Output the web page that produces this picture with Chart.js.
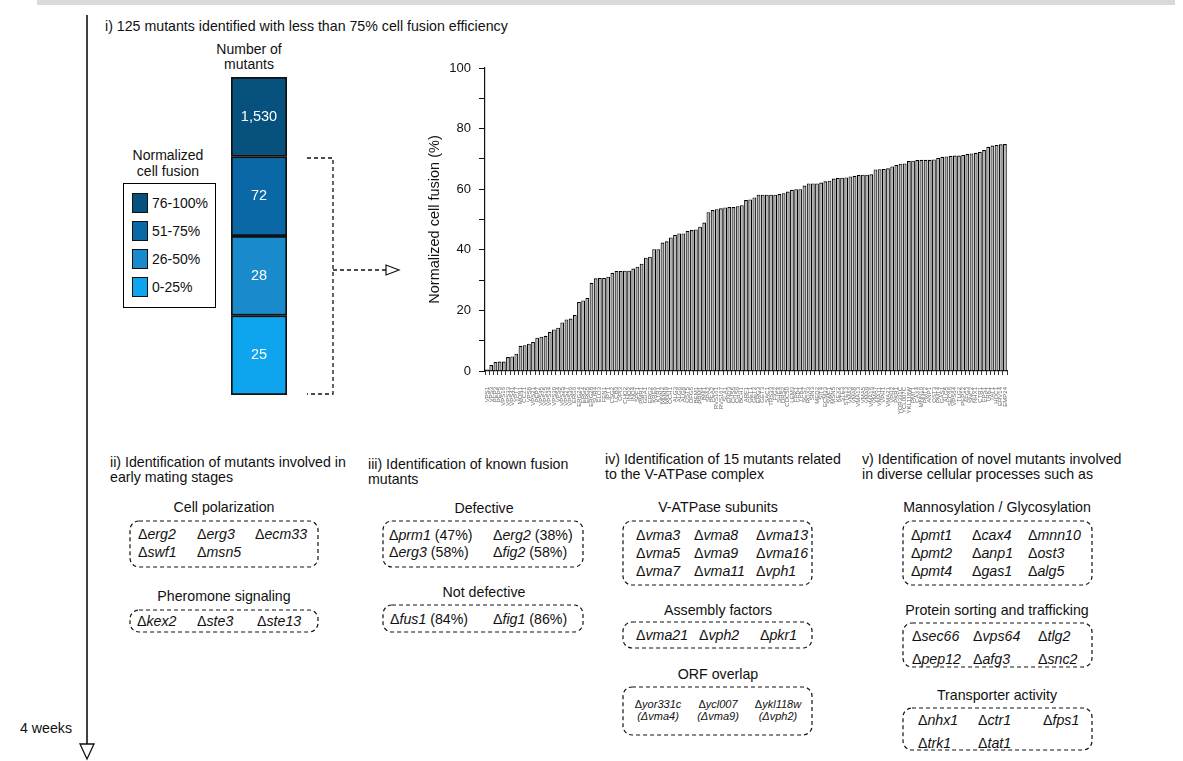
<!DOCTYPE html>
<html>
<head>
<meta charset="utf-8">
<script src="https://cdn.jsdelivr.net/npm/chart.js@4.4.1/dist/chart.umd.min.js"></script>
<style>
  html, body { margin: 0; padding: 0; background: #fff; }
  body {
    width: 1183px; height: 761px; position: relative; overflow: hidden;
    font-family: "Liberation Sans", Arial, Helvetica, sans-serif; color: #111;
  }
  .t { position: absolute; white-space: nowrap; font-size: 14.2px; line-height: 16px; }
  .h { line-height: 15px; }
  .c { transform: translateX(-50%); text-align: center; }
  .s { font-size: 11px; line-height: 12px; }
  .band { position: absolute; left: 37px; top: 0; width: 1138px; height: 5px; background: #d7dbdb; }
  #legend { position: absolute; left: 123px; top: 183px; width: 93px; height: 125px;
            border: 1.5px solid #000; box-sizing: border-box; }
  .sw { position: absolute; left: 8px; width: 16px; height: 20px; border: 1.5px solid #111; box-sizing: border-box; }
  .lt { position: absolute; left: 28px; font-size: 14px; line-height: 20px; white-space: nowrap; }
  canvas { position: absolute; }
  svg { position: absolute; left: 0; top: 0; }
</style>
</head>
<body>
<div class="band"></div>

<div class="t" style="left:105px;top:18px;">i) 125 mutants identified with less than 75% cell fusion efficiency</div>
<div class="t c" style="left:249px;top:42px;font-size:14px;line-height:15px;">Number of<br>mutants</div>
<div class="t c" style="left:168px;top:147px;font-size:14px;line-height:16px;">Normalized<br>cell fusion</div>

<div id="legend"></div>

<canvas id="stack" width="58" height="320" style="left:230px;top:76px;"></canvas>
<canvas id="bars" width="600" height="364" style="left:410px;top:55px;"></canvas>

<!-- ii -->
<div class="t h" style="left:110px;top:455px;">ii) Identification of mutants involved in<br>early mating stages</div>
<div class="t c" style="left:224px;top:499px;">Cell polarization</div>
<div class="t" style="left:138px;top:526px;">&Delta;<i>erg2</i></div>
<div class="t" style="left:197px;top:526px;">&Delta;<i>erg3</i></div>
<div class="t" style="left:255px;top:526px;">&Delta;<i>ecm33</i></div>
<div class="t" style="left:138px;top:544px;">&Delta;<i>swf1</i></div>
<div class="t" style="left:197px;top:544px;">&Delta;<i>msn5</i></div>
<div class="t c" style="left:224px;top:588px;">Pheromone signaling</div>
<div class="t" style="left:137px;top:613px;">&Delta;<i>kex2</i></div>
<div class="t" style="left:197px;top:613px;">&Delta;<i>ste3</i></div>
<div class="t" style="left:257px;top:613px;">&Delta;<i>ste13</i></div>

<!-- iii -->
<div class="t h" style="left:368px;top:457px;">iii) Identification of known fusion<br>mutants</div>
<div class="t c" style="left:484px;top:500px;">Defective</div>
<div class="t" style="left:389px;top:527px;">&Delta;<i>prm1</i> (47%)</div>
<div class="t" style="left:493px;top:527px;">&Delta;<i>erg2</i> (38%)</div>
<div class="t" style="left:389px;top:544px;">&Delta;<i>erg3</i> (58%)</div>
<div class="t" style="left:493px;top:544px;">&Delta;<i>fig2</i> (58%)</div>
<div class="t c" style="left:484px;top:584px;">Not defective</div>
<div class="t" style="left:390px;top:611px;">&Delta;<i>fus1</i> (84%)</div>
<div class="t" style="left:493px;top:611px;">&Delta;<i>fig1</i> (86%)</div>

<!-- iv -->
<div class="t h" style="left:605px;top:452px;">iv) Identification of 15 mutants related<br>to the V-ATPase complex</div>
<div class="t c" style="left:718px;top:499px;">V-ATPase subunits</div>
<div class="t" style="left:636px;top:527px;">&Delta;<i>vma3</i></div>
<div class="t" style="left:694px;top:527px;">&Delta;<i>vma8</i></div>
<div class="t" style="left:756px;top:527px;">&Delta;<i>vma13</i></div>
<div class="t" style="left:636px;top:545px;">&Delta;<i>vma5</i></div>
<div class="t" style="left:694px;top:545px;">&Delta;<i>vma9</i></div>
<div class="t" style="left:756px;top:545px;">&Delta;<i>vma16</i></div>
<div class="t" style="left:636px;top:563px;">&Delta;<i>vma7</i></div>
<div class="t" style="left:694px;top:563px;">&Delta;<i>vma11</i></div>
<div class="t" style="left:756px;top:563px;">&Delta;<i>vph1</i></div>
<div class="t c" style="left:718px;top:602px;">Assembly factors</div>
<div class="t" style="left:636px;top:627px;">&Delta;<i>vma21</i></div>
<div class="t" style="left:699px;top:627px;">&Delta;<i>vph2</i></div>
<div class="t" style="left:760px;top:627px;">&Delta;<i>pkr1</i></div>
<div class="t c" style="left:718px;top:666px;">ORF overlap</div>
<div class="t c s" style="left:658px;top:698px;">&Delta;<i>yor331c</i><br><i>(&Delta;vma4)</i></div>
<div class="t c s" style="left:718px;top:698px;">&Delta;<i>ycl007</i><br><i>(&Delta;vma9)</i></div>
<div class="t c s" style="left:778px;top:698px;">&Delta;<i>ykl118w</i><br><i>(&Delta;vph2)</i></div>

<!-- v -->
<div class="t h" style="left:862px;top:452px;">v) Identification of novel mutants involved<br>in diverse cellular processes such as</div>
<div class="t c" style="left:997px;top:499px;">Mannosylation / Glycosylation</div>
<div class="t" style="left:911px;top:527px;">&Delta;<i>pmt1</i></div>
<div class="t" style="left:972px;top:527px;">&Delta;<i>cax4</i></div>
<div class="t" style="left:1028px;top:527px;">&Delta;<i>mnn10</i></div>
<div class="t" style="left:911px;top:545px;">&Delta;<i>pmt2</i></div>
<div class="t" style="left:972px;top:545px;">&Delta;<i>anp1</i></div>
<div class="t" style="left:1028px;top:545px;">&Delta;<i>ost3</i></div>
<div class="t" style="left:911px;top:563px;">&Delta;<i>pmt4</i></div>
<div class="t" style="left:972px;top:563px;">&Delta;<i>gas1</i></div>
<div class="t" style="left:1028px;top:563px;">&Delta;<i>alg5</i></div>
<div class="t c" style="left:997px;top:602px;">Protein sorting and trafficking</div>
<div class="t" style="left:912px;top:628px;">&Delta;<i>sec66</i></div>
<div class="t" style="left:973px;top:628px;">&Delta;<i>vps64</i></div>
<div class="t" style="left:1038px;top:628px;">&Delta;<i>tlg2</i></div>
<div class="t" style="left:912px;top:651px;">&Delta;<i>pep12</i></div>
<div class="t" style="left:973px;top:651px;">&Delta;<i>afg3</i></div>
<div class="t" style="left:1038px;top:651px;">&Delta;<i>snc2</i></div>
<div class="t c" style="left:997px;top:687px;">Transporter activity</div>
<div class="t" style="left:918px;top:712px;">&Delta;<i>nhx1</i></div>
<div class="t" style="left:978px;top:712px;">&Delta;<i>ctr1</i></div>
<div class="t" style="left:1043px;top:712px;">&Delta;<i>fps1</i></div>
<div class="t" style="left:918px;top:735px;">&Delta;<i>trk1</i></div>
<div class="t" style="left:978px;top:735px;">&Delta;<i>tat1</i></div>

<div class="t" style="left:20px;top:720px;">4 weeks</div>

<svg width="1183" height="761" viewBox="0 0 1183 761">
  <g fill="none" stroke="#111">
    <!-- timeline -->
    <line x1="87" y1="15" x2="87" y2="744" stroke-width="1.6"/>
    <polygon points="80,744 94,744 87,759" stroke-width="1.3" fill="#fff"/>
    <!-- bracket and pointer to the bar chart -->
    <path d="M307 158 H333 V394 H307" stroke-width="1.3" stroke-dasharray="4 3"/>
    <path d="M333 270 H386" stroke-width="1.3" stroke-dasharray="4 3"/>
    <polygon points="386,265 386,275 399,270" stroke-width="1.2" fill="#fff"/>
    <!-- grouping boxes -->
    <g stroke-width="1.2" stroke-dasharray="4 3">
      <rect x="130" y="521" width="188" height="46" rx="9"/>
      <rect x="130" y="610" width="188" height="22" rx="9"/>
      <rect x="383" y="521" width="200" height="46" rx="9"/>
      <rect x="383" y="605" width="200" height="27" rx="9"/>
      <rect x="623" y="521" width="189" height="64" rx="9"/>
      <rect x="623" y="622" width="189" height="26" rx="9"/>
      <rect x="623" y="687" width="189" height="48" rx="9"/>
      <rect x="903" y="521" width="189" height="64" rx="9"/>
      <rect x="903" y="623" width="189" height="44" rx="9"/>
      <rect x="903" y="708" width="189" height="42" rx="9"/>
    </g>
  </g>
</svg>

<script>
// Screened deletion mutants with reduced fusion, sorted by efficiency
const mutantLabels = [
  'VPS1','VPS3','PEP3','PEP5','VPS16','VPS33','VPS41','YPT7','MON1','CCZ1',
  'VPS8','VPS21','PEP7','VPS45','VPS15','VPS34','VPS30','VPS4','VPS25','VPS27',
  'VPS36','ERG6','ERG24','ERG4','ERG5','ERG28','SUR4','ELO3','FEN1','IPT1',
  'CSG2','LCB3','OPI3','CHO2','INO2','INO4','SPF1','PMR1','GDA1','ERG2',
  'KRE6','KTR1','MNN2','MNN9','OCH1','ALG3','ALG6','ALG8','OST5','DFG5',
  'BEM1','PRM1','BNI1','SPA2','PEA2','RVS161','RVS167','SLA1','END3','CHS5',
  'CHS6','BCH1','ARF1','GET1','GET2','ERG3','GET3','SAC1','TRS33','FIG2',
  'SHE4','DRS2','CDC50','LEM3','FPK1','YPK1','SCS7','ROX3','SIN3','MED2',
  'SIT4','ECM33','SWF1','MSN5','KEX2','STE3','STE13','VMA3','VMA8','VMA13',
  'VMA5','VMA9','VMA16','VMA7','VMA11','VPH1','VMA21','VPH2','PKR1','YOR331C',
  'YCL007C','YKL118W','PMT1','CAX4','MNN10','PMT2','ANP1','OST3','PMT4','GAS1',
  'ALG5','SEC66','VPS64','TLG2','PEP12','AFG3','SNC2','NHX1','CTR1','FPS1',
  'TRK1','TAT1','HOC1','ERV14','EMP24'
];
const fusionValues = [
  0.5, 2.0, 3.0, 3.1, 3.1, 4.6, 4.8, 5.7, 8.3, 8.5,
  9.0, 9.6, 11.0, 11.3, 11.6, 12.9, 13.7, 14.3, 16.0, 17.0,
  17.3, 18.5, 22.8, 23.3, 24.1, 29.1, 30.6, 30.7, 30.7, 31.1,
  32.4, 33.0, 33.0, 33.1, 33.1, 33.8, 34.4, 35.4, 37.4, 37.7,
  40.2, 40.2, 42.4, 42.8, 44.1, 44.9, 45.4, 45.4, 46.2, 46.5,
  46.7, 47.6, 49.0, 52.4, 53.1, 53.4, 53.7, 54.0, 54.1, 54.1,
  54.4, 54.7, 56.4, 56.6, 57.3, 58.2, 58.2, 58.2, 58.2, 58.2,
  58.4, 58.7, 59.2, 59.8, 60.0, 60.0, 61.2, 61.9, 61.9, 61.9,
  62.2, 62.6, 62.8, 63.5, 63.7, 63.8, 63.9, 64.2, 64.4, 64.7,
  64.8, 64.8, 64.9, 66.5, 66.6, 66.7, 66.9, 67.5, 68.0, 68.4,
  68.5, 69.3, 69.4, 69.6, 69.7, 69.7, 69.7, 69.8, 70.3, 70.7,
  70.8, 71.0, 71.1, 71.1, 71.3, 71.6, 71.8, 72.0, 72.3, 72.9,
  74.0, 74.4, 74.6, 74.8, 74.9
];
const yTickLabels = ['0', '20', '40', '60', '80', '100'];

// Fusion-efficiency bands of the whole screen
const bandLabels = ['76-100%', '51-75%', '26-50%', '0-25%'];
const bandCounts = [1530, 72, 28, 25];
const bandColors = ['#07517f', '#0a68a6', '#198bcd', '#0ea4ee'];
const bandCells = [1, 1, 1, 1];

const FONT = '"Liberation Sans", Arial, Helvetica, sans-serif';
Chart.defaults.font.family = FONT;
Chart.defaults.color = '#111';

// legend of the bands
const legend = document.getElementById('legend');
bandLabels.forEach((lab, i) => {
  const sw = document.createElement('div');
  sw.className = 'sw';
  sw.style.top = (9 + i * 28) + 'px';
  sw.style.background = bandColors[i];
  legend.appendChild(sw);
  const tx = document.createElement('div');
  tx.className = 'lt';
  tx.style.top = (9 + i * 28) + 'px';
  tx.textContent = lab;
  legend.appendChild(tx);
});

// count written inside each band cell
const countLabels = {
  id: 'countLabels',
  afterDatasetsDraw(chart) {
    const ctx = chart.ctx;
    const meta = chart.getDatasetMeta(0);
    ctx.save();
    ctx.fillStyle = '#fff';
    ctx.font = '14.5px ' + FONT;
    ctx.textAlign = 'center';
    ctx.textBaseline = 'middle';
    meta.data.forEach((el, i) => {
      const p = el.getProps(['x', 'y', 'base'], true);
      ctx.fillText(bandCounts[i].toLocaleString('en-US'), (p.x + p.base) / 2, p.y);
    });
    ctx.restore();
  }
};

new Chart(document.getElementById('stack'), {
  type: 'bar',
  data: {
    labels: bandLabels,
    datasets: [{
      data: bandCells,
      backgroundColor: bandColors,
      borderColor: '#111',
      borderWidth: 2,
      borderSkipped: false,
      barPercentage: 1,
      categoryPercentage: 1
    }]
  },
  options: {
    indexAxis: 'y',
    responsive: false,
    animation: false,
    devicePixelRatio: 1,
    layout: { padding: 1 },
    plugins: { legend: { display: false }, tooltip: { enabled: false } },
    scales: {
      x: { display: false, min: 0, max: 1 },
      y: { display: false }
    }
  },
  plugins: [countLabels]
});

new Chart(document.getElementById('bars'), {
  type: 'bar',
  data: {
    labels: mutantLabels,
    datasets: [{
      data: fusionValues,
      backgroundColor: '#b4b4b4',
      borderColor: '#000',
      borderWidth: 1.1,
      borderSkipped: 'bottom',
      barPercentage: 0.9,
      categoryPercentage: 1
    }]
  },
  options: {
    responsive: false,
    animation: false,
    devicePixelRatio: 1,
    layout: { padding: { top: 13, right: 3, left: 0, bottom: 0 } },
    plugins: { legend: { display: false }, tooltip: { enabled: false } },
    scales: {
      y: {
        min: 0, max: 100,
        afterFit(s) { s.width = 75; s.paddingTop = 0; s.paddingBottom = 0; },
        border: { display: true, color: '#111', width: 1.2 },
        grid: { drawOnChartArea: false, drawTicks: true, tickLength: 6, color: '#111', lineWidth: 1 },
        ticks: {
          stepSize: 10, padding: 8, color: '#111',
          font: { size: 13, family: FONT },
          callback: (v) => (v % 20 === 0 ? yTickLabels[v / 20] : '')
        },
        title: {
          display: true, text: 'Normalized cell fusion (%)',
          font: { size: 14.5, family: FONT }, color: '#111',
          padding: { top: 16, bottom: 0 }
        }
      },
      x: {
        afterFit(s) { s.height = 48; s.paddingLeft = 0; s.paddingRight = 0; },
        border: { display: true, color: '#111', width: 1.2 },
        grid: { drawOnChartArea: false, drawTicks: true, tickLength: 4, color: '#333', lineWidth: 1 },
        ticks: {
          autoSkip: false, maxRotation: 90, minRotation: 90, padding: 12,
          color: '#666', font: { size: 6, family: FONT }
        }
      }
    }
  }
});
</script>
</body>
</html>
